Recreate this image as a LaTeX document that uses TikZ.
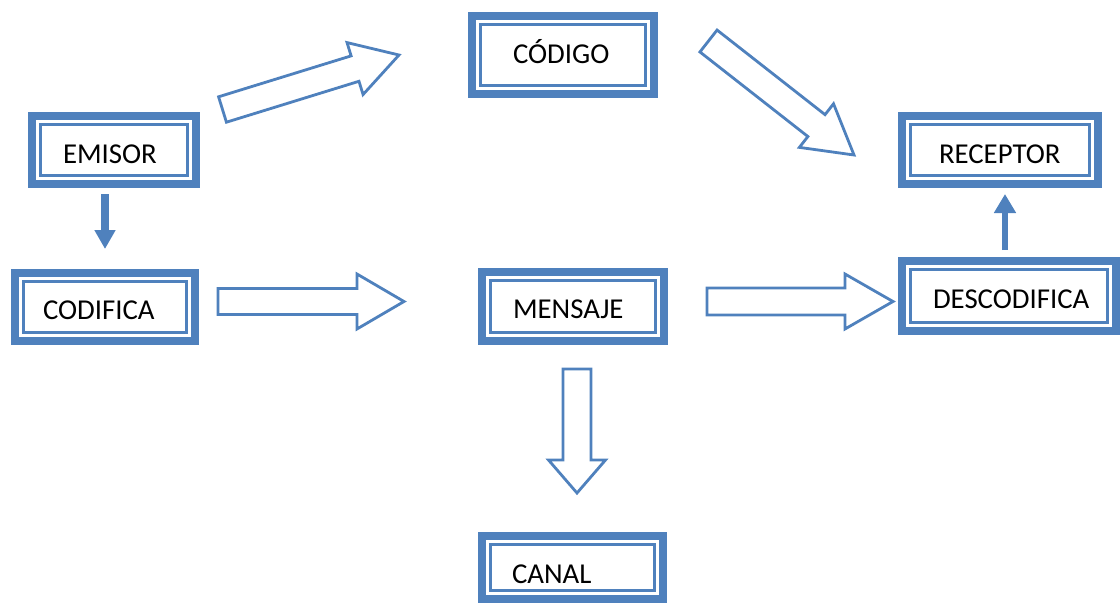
\documentclass[tikz,border=0pt]{standalone}
\usepackage{fontspec}
\setmainfont{Carlito}
\usetikzlibrary{calc,arrows.meta}
\definecolor{boxblue}{RGB}{79,129,189}
\newcommand\myblockarrow[6]{% #1 name, #2 tail, #3 tip, #4 half shaft, #5 half head, #6 head length
  \coordinate (#1h) at ($(#3)!#6!(#2)$);
  \draw[blk] ($(#2)!#4!90:(#3)$) -- ($(#1h)!#4!90:(#3)$) -- ($(#1h)!#5!90:(#3)$) -- (#3)
    -- ($(#1h)!#5!-90:(#3)$) -- ($(#1h)!#4!-90:(#3)$) -- ($(#2)!#4!-90:(#3)$) -- cycle;
}
\begin{document}
\begin{tikzpicture}[x=1pt,y=-1pt,
  box/.style={draw=boxblue, line width=8pt, fill=white, inner sep=0pt, outer sep=0pt,
    font=\fontsize{28.8}{34}\selectfont, align=left, text depth=4pt,
    path picture={\draw[boxblue, line width=2.7pt]
      ([shift={(8.65pt,-8.65pt)}]path picture bounding box.north west) rectangle
      ([shift={(-8.65pt,8.65pt)}]path picture bounding box.south east);}},
  blk/.style={draw=boxblue, line width=2.8pt, fill=white, line join=miter},
  solidarr/.style={draw=boxblue, line width=#1}
]
\useasboundingbox (0,0) rectangle (1120,605);

\node[box, minimum width=164pt, minimum height=68pt, text width=102pt, text height=30pt] (emisor) at (114,150) {EMISOR};
\node[box, minimum width=182pt, minimum height=78pt, text width=100pt, text height=20pt] (codigo) at (563,55) {CÓDIGO};
\node[box, minimum width=196pt, minimum height=68pt, text width=122pt, text height=30pt] (receptor) at (1000,150) {RECEPTOR};
\node[box, minimum width=214pt, minimum height=70pt, text width=152pt, text height=28pt] (descodifica) at (1009,296) {DESCODIFICA};
\node[box, minimum width=180pt, minimum height=68pt, text width=124pt, text height=28pt] (codifica) at (105,307) {CODIFICA};
\node[box, minimum width=182pt, minimum height=69pt, text width=120pt, text height=27pt] (mensaje) at (573,306.5) {MENSAJE};
\node[box, minimum width=181pt, minimum height=63pt, text width=121pt, text height=35pt] (canal) at (572.5,567.5) {CANAL};

% solid arrows
\draw[solidarr=8pt, -{Triangle[width=20pt,length=19pt]}, shorten <=10pt, shorten >=24pt]
  (emisor.south -| codifica.north) -- (codifica.north);
\coordinate (xr) at (1005,0);
\draw[solidarr=6.5pt, -{Triangle[width=21pt,length=19pt]}, shorten <=11pt, shorten >=10pt]
  (descodifica.north -| xr) -- (receptor.south -| xr);

% block arrows
\coordinate (a1t) at (222.5,109.5); \coordinate (a1p) at (399,55);
\myblockarrow{a1}{a1t}{a1p}{13.3pt}{27.2pt}{46pt}
\coordinate (a2t) at (708.5,41); \coordinate (a2p) at (854,155);
\myblockarrow{a2}{a2t}{a2p}{13.9pt}{27.7pt}{47.7pt}
\coordinate (a3t) at (218,301.5); \coordinate (a3p) at (404,301.5);
\myblockarrow{a3}{a3t}{a3p}{13pt}{27.5pt}{47pt}
\coordinate (a4t) at (707,301.5); \coordinate (a4p) at (893,301.5);
\myblockarrow{a4}{a4t}{a4p}{13.5pt}{27.5pt}{48pt}
\coordinate (a5t) at (577,369); \coordinate (a5p) at (577,493);
\myblockarrow{a5}{a5t}{a5p}{14pt}{28.5pt}{33pt}
\end{tikzpicture}
\end{document}
